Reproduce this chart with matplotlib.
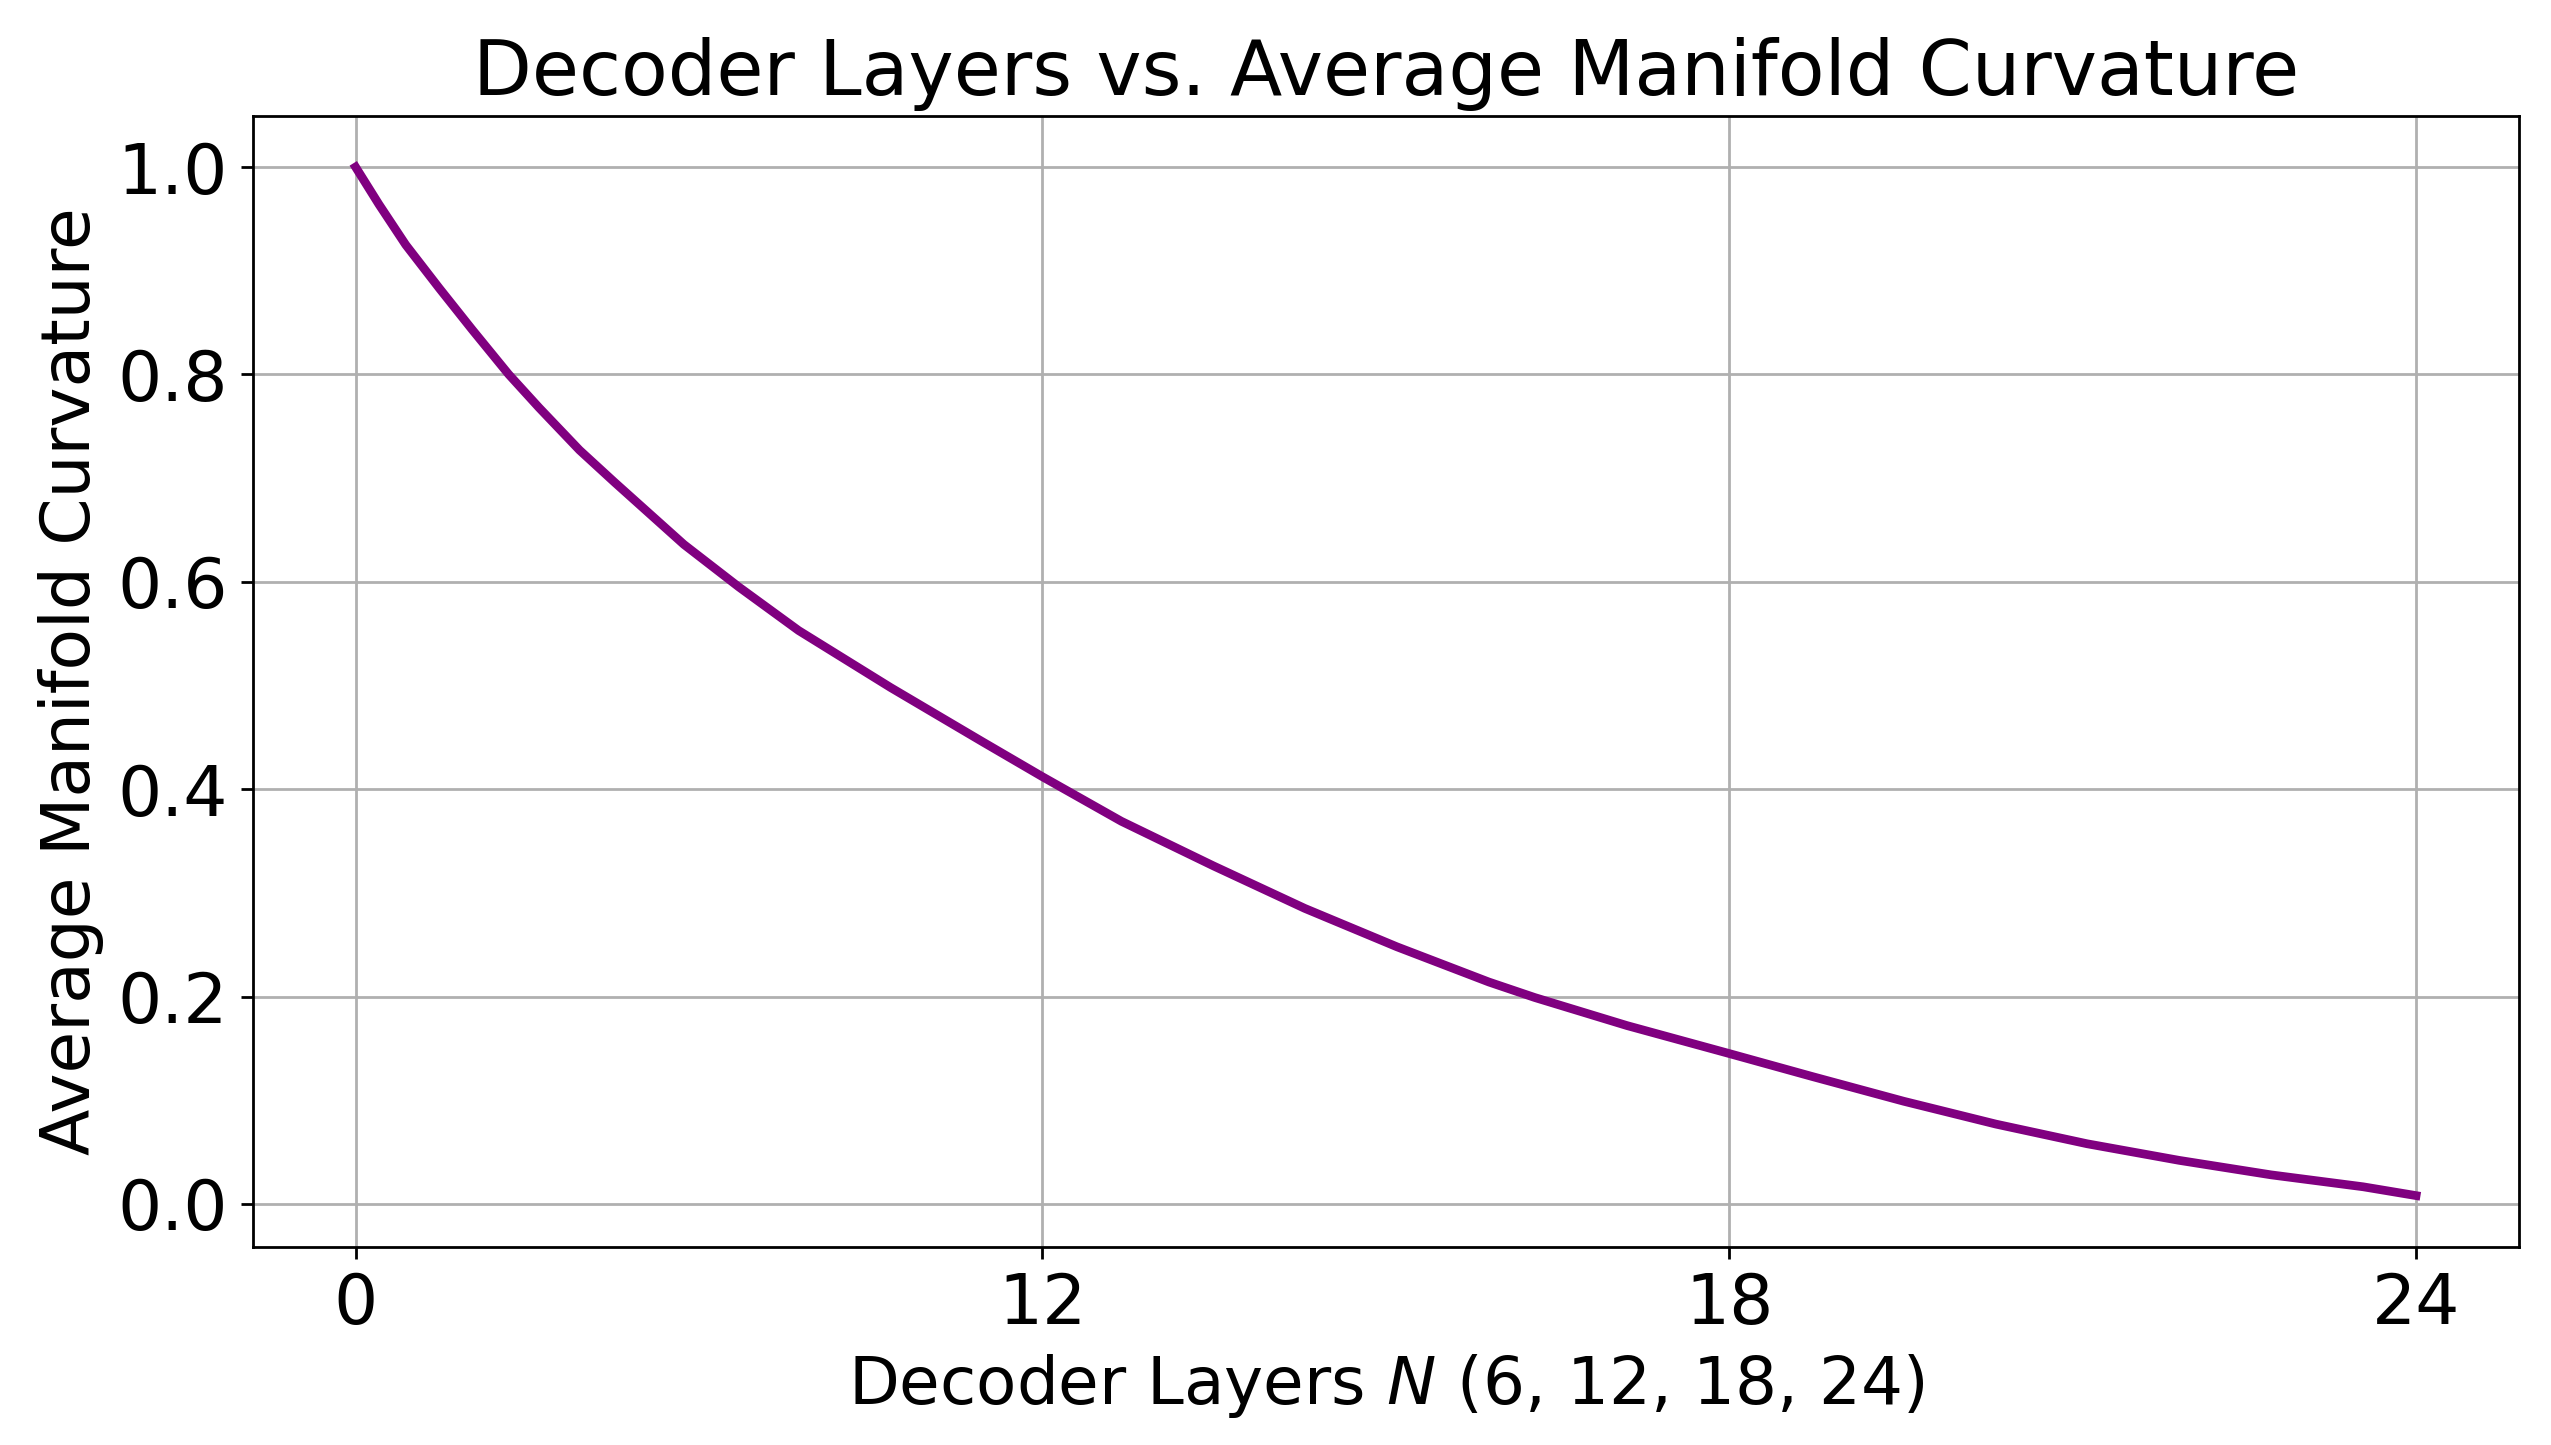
import matplotlib
matplotlib.use("Agg")
import matplotlib.pyplot as plt

# tick positions on the x axis are evenly spaced, labels are layer counts
tick_pos = [0, 1, 2, 3]
tick_labels = ['0', '12', '18', '24']

# curve (x in tick-position units)
curve_x = [0.0, 0.034, 0.073, 0.122, 0.170, 0.223, 0.267, 0.326, 0.377, 0.478,
           0.558, 0.645, 0.779, 0.912, 1.0, 1.115, 1.249, 1.382, 1.516, 1.650,
           1.717, 1.851, 2.0, 2.120, 2.254, 2.388, 2.521, 2.655, 2.789, 2.923,
           3.0]
curve_y = [1.0, 0.964, 0.925, 0.883, 0.843, 0.800, 0.768, 0.727, 0.696, 0.636,
           0.595, 0.553, 0.498, 0.446, 0.412, 0.369, 0.326, 0.285, 0.248, 0.214,
           0.199, 0.172, 0.145, 0.123, 0.099, 0.077, 0.058, 0.042, 0.028, 0.0165,
           0.008]


def main():
    fig, ax = plt.subplots(figsize=(2551 / 250, 1445 / 250), dpi=250)
    fig.subplots_adjust(left=0.099, right=0.9875, top=0.92, bottom=0.137)

    ax.plot(curve_x, curve_y, color='purple', linewidth=2.5)

    ax.set_xticks(tick_pos)
    ax.set_xticklabels(tick_labels)
    ax.tick_params(labelsize=20)
    ax.grid(True)

    ax.set_xlabel('Decoder Layers $N$ (6, 12, 18, 24)', fontsize=19)
    ax.set_ylabel('Average Manifold Curvature', fontsize=19.5)
    ax.set_title('Decoder Layers vs. Average Manifold Curvature', fontsize=22)

    fig.savefig('out.png', dpi=250)


if __name__ == "__main__":
    main()
